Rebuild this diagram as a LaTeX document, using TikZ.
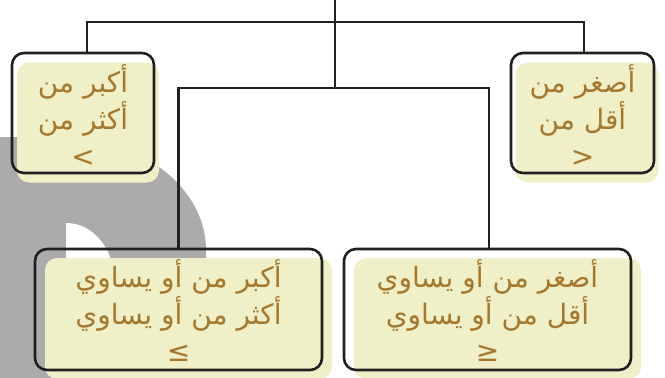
\documentclass[tikz,border=0pt]{standalone}
\usepackage{fontspec}
\TeXXeTstate=1
\newfontfamily\arabicfont[Script=Arabic]{DejaVu Sans}
\newfontfamily\symfont{DejaVu Sans}
\definecolor{txtbrown}{HTML}{A5782E}
\definecolor{boxfill}{HTML}{EFF0C8}
\definecolor{bggray}{HTML}{ABABAB}
\definecolor{linedark}{HTML}{231F20}
\tikzset{
  outlinebox/.style={draw=linedark, line width=2.6pt, rounded corners=12pt, inner sep=0pt, outer sep=0pt},
  fillbox/.style={fill=boxfill, rounded corners=12pt, inner sep=0pt, outer sep=0pt},
  conn/.style={draw=linedark, line width=2.5pt},
  label/.style={text=txtbrown, align=center, font=\arabicfont\fontsize{28}{37}\selectfont}
}
\begin{document}
\begin{tikzpicture}[x=1pt,y=-1pt]
\useasboundingbox (0,0) rectangle (665,378);
% background gray shape
\fill[bggray] (0,378) -- (0,137) -- (60,137) .. controls (140.6,137) and (206,187.6) .. (206,250) -- (206,378) -- cycle;
\fill[white] (66,320) -- (66,223) .. controls (92.5,223) and (114,248) .. (114,280) -- (114,320) -- cycle;
% fills
\node[fillbox, minimum width=142pt, minimum height=120pt] (tlf) at (88,122.5) {};
\node[fillbox, minimum width=143pt, minimum height=120pt] (trf) at (587,122.5) {};
\node[fillbox, minimum width=287pt, minimum height=121pt] (blf) at (188.5,318.5) {};
\node[fillbox, minimum width=287pt, minimum height=121pt] (brf) at (497.5,318.5) {};
% outlines
\node[outlinebox, minimum width=142pt, minimum height=120pt] (tl) at (83,113) {};
\node[outlinebox, minimum width=143pt, minimum height=120pt] (tr) at (582.5,113) {};
\node[outlinebox, minimum width=287pt, minimum height=121pt] (bl) at (178.5,309.5) {};
\node[outlinebox, minimum width=287pt, minimum height=121pt] (br) at (487.5,309.5) {};
% connectors
\coordinate (roottop) at (335,0);
\coordinate (j1) at (335,22);
\coordinate (j2) at (335,88);
\draw[conn] (roottop) -- (j2);
\draw[conn] ([xshift=4pt]tl.north) |- (j1) -| ([xshift=1.5pt]tr.north);
\draw[conn] (bl.north) |- (j2) -| ([xshift=1.5pt]br.north);
% labels
\node[label] (tlt) at (83,115.5) {\beginR أكبر من\endR\\\beginR أكثر من\endR\\{\symfont <}};
\node[label] (trt) at (582.5,115.5) {\beginR أصغر من\endR\\\beginR أقل من\endR\\{\symfont >}};
\node[label] (blt) at (178.5,311) {\beginR أكبر من أو يساوي\endR\\\beginR أكثر من أو يساوي\endR\\{\symfont ≤}};
\node[label] (brt) at (487.5,311) {\beginR أصغر من أو يساوي\endR\\\beginR أقل من أو يساوي\endR\\{\symfont ≥}};
\end{tikzpicture}
\end{document}
